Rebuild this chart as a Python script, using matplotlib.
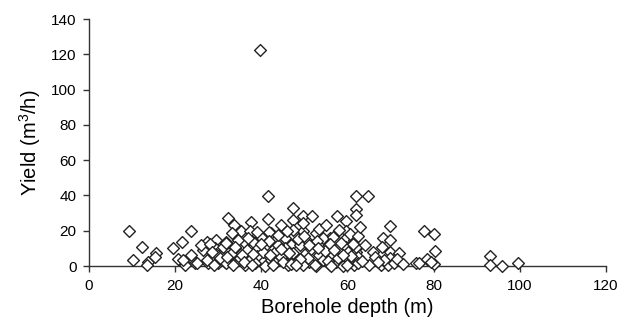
import matplotlib.pyplot as plt

plt.rcParams['font.family'] = ['Liberation Sans', 'DejaVu Sans']
plt.rcParams['mathtext.fontset'] = 'custom'
plt.rcParams['mathtext.rm'] = 'Liberation Sans'
plt.rcParams['mathtext.it'] = 'Liberation Sans:italic'

# borehole depth (m) and yield (m3/h)
depth = [9.3, 12.4, 10.3, 13.6, 15.5, 15.3, 13.4, 19.5, 21.6, 23.6, 20.7, 23.4, 24.6, 22.3,
         21.9, 23.8, 25.0,
         26.5, 27.3, 29.6, 31.9, 28.8, 30.7, 32.3, 27.6, 30.0, 31.5, 27.3, 29.2, 31.1,
         33.7, 37.7, 35.4, 37.5, 31.7, 29.6,
         41.6, 41.6, 44.6, 47.3, 47.3, 33.1, 40.0, 42.3, 45.4, 47.0, 36.2, 38.1, 33.8, 39.2,
         43.1, 45.4, 32.7, 35.0, 37.3, 40.0, 42.3, 44.6, 47.0, 31.9, 36.2, 40.8, 46.2, 43.1,
         38.9, 41.2,
         61.9, 64.9, 49.7, 51.8, 57.7, 61.9, 61.9, 59.7, 69.9, 77.9, 49.7, 59.7, 68.2, 69.9,
         65.9, 69.9, 72.1, 75.9, 41.7, 55.9, 59.7, 61.9,
         49.7, 47.3, 52.8, 54.3, 56.6, 61.6, 50.4, 48.9, 52.0, 55.1, 59.7, 47.3, 50.4, 53.5,
         56.6, 60.1, 62.0, 48.1, 51.2, 54.3, 57.4, 60.1, 49.7, 52.8, 55.9, 58.9, 61.6,
         62.0, 62.4, 69.8, 65.1, 67.8, 69.4, 70.9, 62.4, 68.6,
         80.0, 80.4, 80.0, 76.7, 93.1, 93.1, 96.0, 99.5,
         39.6,
         26.0, 28.0, 30.5, 33.0, 34.5, 36.8, 38.5, 40.5, 41.8, 43.8, 45.0, 46.5, 48.5, 50.8,
         51.5, 53.0, 54.8, 56.0, 57.8, 58.5, 60.8, 63.5, 64.0, 66.5, 67.0, 68.0, 71.5, 73.0,
         78.5, 79.5, 35.5, 37.0, 39.0, 44.0, 46.0, 50.0, 53.5, 55.0, 58.0, 60.5, 62.5, 63.0,
         28.5, 32.0, 34.0, 36.0, 38.0, 40.0, 42.0, 44.5, 46.8, 49.0, 51.0, 53.2, 55.5, 57.0,
         59.0, 61.2, 29.0, 33.5, 37.8, 42.8, 48.0, 52.5, 56.2, 60.0]
yield_ = [20.0, 10.6, 3.4, 2.4, 7.5, 4.9, 0.6, 10.4, 13.6, 20.0, 3.8, 5.3, 1.9, 0.4,
          3.4, 6.2, 1.5,
          9.1, 13.8, 14.7, 13.8, 6.2, 6.2, 27.0, 1.5, 1.5, 2.4, 3.4, 10.0, 10.9,
          23.2, 24.7, 20.0, 19.8, 12.9, 6.8,
          39.9, 26.5, 23.2, 32.7, 26.1, 18.5, 16.6, 18.5, 15.7, 11.9, 12.9, 13.8, 10.0, 10.0,
          8.1, 10.0, 3.4, 4.4, 3.4, 3.4, 3.4, 5.3, 3.4, 1.5, 0.6, 0.0, 0.6, 1.5,
          5.7, 11.9,
          39.9, 39.9, 28.5, 28.5, 28.5, 32.1, 29.0, 25.7, 22.9, 20.0, 20.0, 20.0, 15.7, 14.7,
          8.1, 8.1, 7.2, 1.9, 19.5, 15.7, 15.7, 10.0,
          24.2, 20.4, 18.5, 15.7, 16.6, 14.7, 14.7, 11.9, 11.9, 10.0, 10.9, 7.2, 7.2, 6.2,
          6.2, 8.1, 8.1, 2.4, 2.4, 3.4, 2.4, 3.4, 0.6, 0.0, 0.6, 0.0, 0.6,
          10.9, 5.3, 4.4, 0.6, 0.6, 0.6, 1.5, 1.5, 3.4,
          18.0, 8.5, 1.0, 1.7, 5.8, 0.6, 0.2, 1.5,
          122.4,
          12.0, 12.5, 4.5, 7.0, 14.5, 9.0, 1.5, 8.0, 14.0, 12.0, 2.0, 7.5, 15.5, 4.5,
          9.5, 14.0, 8.5, 12.5, 4.5, 13.0, 5.5, 3.0, 12.0, 5.0, 2.5, 10.5, 4.0, 1.0,
          4.0, 2.5, 6.5, 16.0, 19.0, 17.5, 20.0, 17.0, 21.0, 23.0, 20.5, 18.0, 17.0, 22.0,
          8.0, 5.0, 11.0, 2.0, 7.0, 12.5, 6.0, 9.5, 1.0, 4.0, 12.0, 10.0, 3.0, 9.0,
          6.5, 12.5, 0.5, 0.8, 0.4, 0.3, 0.5, 0.6, 0.2, 0.8]

xticks = [0, 20, 40, 60, 80, 100, 120]
yticks = [0, 20, 40, 60, 80, 100, 120, 140]

fig = plt.figure(figsize=(6.37, 3.28), dpi=100)
ax = fig.add_axes([0.1397, 0.189, 0.8113, 0.753])

ax.scatter(depth, yield_, marker='D', s=36, facecolors='white',
           edgecolors='#222222', linewidths=1.0, zorder=3, clip_on=False)

ax.set_xlim(0, 120)
ax.set_ylim(0, 140)
ax.set_xticks(xticks)
ax.set_yticks(yticks)
ax.spines['top'].set_visible(False)
ax.spines['right'].set_visible(False)
for s in ['left', 'bottom']:
    ax.spines[s].set_color('#333333')
    ax.spines[s].set_linewidth(1.0)
ax.tick_params(direction='out', length=4, width=1, color='#333333',
               labelsize=11, pad=5)

ax.set_xlabel('Borehole depth (m)', fontsize=14.5, labelpad=4)
ax.set_ylabel('Yield (m$^3$/h)', fontsize=14.5, labelpad=6)

plt.savefig('out.png', dpi=100)
